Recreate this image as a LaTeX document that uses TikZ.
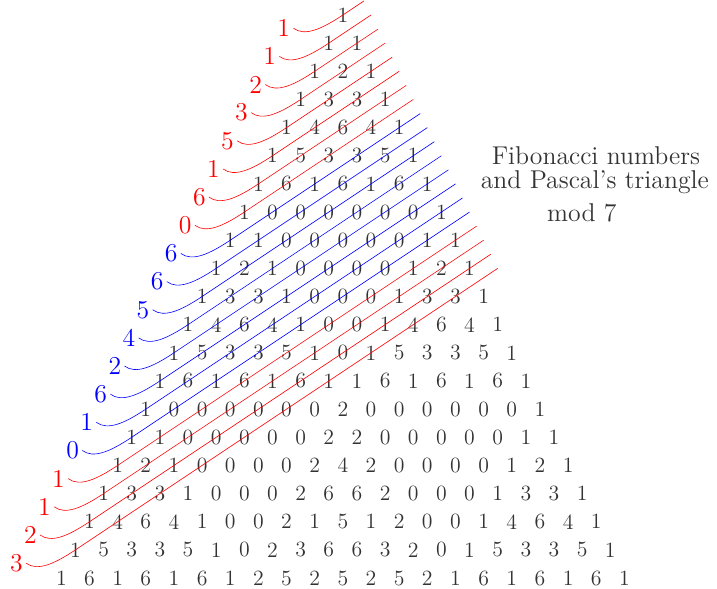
\documentclass[tikz,border=0pt]{standalone}
\usepackage{tikz}
\tikzset{
  entry/.style={inner sep=1pt,text=black!80,font=\fontsize{11}{13}\selectfont},
  fiblabel/.style={inner sep=1.5pt,font=\fontsize{13}{15}\selectfont},
  fibline/.style={line width=0.3pt},
  titletext/.style={anchor=base,inner sep=0pt,text=black!80,font=\fontsize{13}{15}\selectfont}
}
\begin{document}
\begin{tikzpicture}[x=0.5cm,y=0.5cm]
  \useasboundingbox (-12.18,-20.36) rectangle (13.29,0.533);
  \foreach \row [count=\n from 0] in {{1},{1,1},{1,2,1},{1,3,3,1},{1,4,6,4,1},{1,5,3,3,5,1},
      {1,6,1,6,1,6,1},{1,0,0,0,0,0,0,1},{1,1,0,0,0,0,0,1,1},{1,2,1,0,0,0,0,1,2,1},
      {1,3,3,1,0,0,0,1,3,3,1},{1,4,6,4,1,0,0,1,4,6,4,1},{1,5,3,3,5,1,0,1,5,3,3,5,1},
      {1,6,1,6,1,6,1,1,6,1,6,1,6,1},{1,0,0,0,0,0,0,2,0,0,0,0,0,0,1},
      {1,1,0,0,0,0,0,2,2,0,0,0,0,0,1,1},{1,2,1,0,0,0,0,2,4,2,0,0,0,0,1,2,1},
      {1,3,3,1,0,0,0,2,6,6,2,0,0,0,1,3,3,1},{1,4,6,4,1,0,0,2,1,5,1,2,0,0,1,4,6,4,1},
      {1,5,3,3,5,1,0,2,3,6,6,3,2,0,1,5,3,3,5,1},{1,6,1,6,1,6,1,2,5,2,5,2,5,2,1,6,1,6,1,6,1}}{
    \foreach \x [count=\k from 0] in \row {
      \node[entry] (p-\n-\k) at ({\k-\n/2},-\n) {\x};
    }
  }
  \foreach \f [count=\m from 0] in {1,1,2,3,5,1,6,0,6,6,5,4,2,6,1,0,1,1,2,3}{
    \pgfmathtruncatemacro{\blk}{mod(floor(\m/8),2)}
    \ifnum\blk=1 \def\fcol{blue}\else\def\fcol{red}\fi
    \node[fiblabel,text=\fcol] (f-\m) at ({-\m/2-2.1},{-\m-0.47}) {\f};
    \coordinate (e-\m) at ({\m/4+0.75},{-(\m-1)/2});
    \draw[fibline,\fcol] (f-\m.east) .. controls +(0.4,-0.3) and +(-0.75,-0.5) .. (p-\m-0.center) -- (e-\m);
  }
  \node[titletext] (title-a) at (8.99,-5.32) {Fibonacci numbers};
  \node[titletext] (title-b) at (8.95,-6.17) {and Pascal's triangle};
  \node[titletext] (title-c) at (8.49,-7.35) {mod 7};
\end{tikzpicture}
\end{document}
